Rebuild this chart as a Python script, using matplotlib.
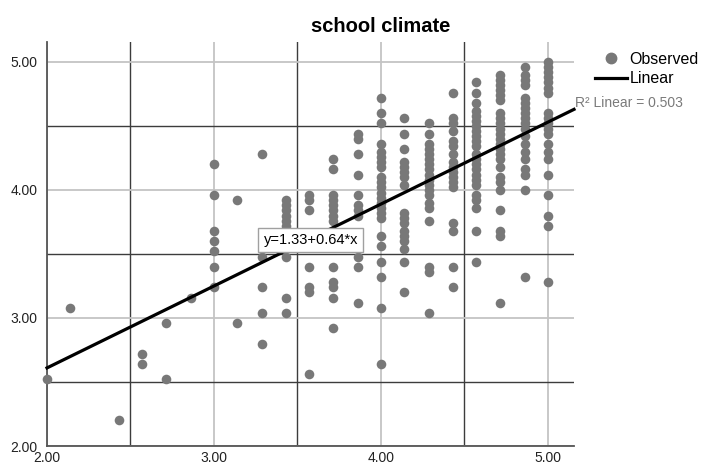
import matplotlib
matplotlib.use('Agg')
import matplotlib.pyplot as plt
from matplotlib.lines import Line2D

plt.rcParams['font.family'] = ['Liberation Sans', 'DejaVu Sans']

# x levels (steps of 1/7) and the observed y values in each column
x_levels = [2.00, 2.14, 2.43, 2.57, 2.71, 2.86, 3.00, 3.14, 3.29, 3.43, 3.57,
            3.71, 3.86, 4.00, 4.14, 4.29, 4.43, 4.57, 4.71, 4.86, 5.00]

col_200 = [2.52]
col_214 = [3.08]
col_243 = [2.20]
col_257 = [2.72, 2.64]
col_271 = [2.96, 2.52]
col_286 = [3.16]
col_300 = [4.20, 3.96, 3.68, 3.60, 3.52, 3.40, 3.24]
col_314 = [3.92, 2.96]
col_329 = [4.28, 3.48, 3.24, 3.04, 2.80]
col_343 = [3.92, 3.88, 3.84, 3.80, 3.76, 3.72, 3.48, 3.16, 3.04]
col_357 = [3.96, 3.92, 3.84, 3.64, 3.40, 3.24, 3.20, 2.56]
col_371 = [4.24, 4.16, 3.96, 3.92, 3.88, 3.84, 3.80, 3.76, 3.60, 3.40, 3.28,
           3.24, 3.16, 2.92]
col_386 = [4.44, 4.40, 4.28, 4.12, 3.96, 3.88, 3.84, 3.80, 3.48, 3.40, 3.12]
col_400 = [4.72, 4.60, 4.52, 4.36, 4.30, 4.26, 4.22, 4.18, 4.10, 4.06, 4.02,
           3.98, 3.94, 3.90, 3.86, 3.82, 3.78, 3.64, 3.56, 3.44, 3.32, 3.08, 2.64]
col_414 = [4.56, 4.44, 4.32, 4.22, 4.18, 4.14, 4.10, 4.04, 3.82, 3.78, 3.74,
           3.68, 3.64, 3.60, 3.54, 3.44, 3.20]
col_429 = [4.52, 4.44, 4.36, 4.32, 4.28, 4.24, 4.20, 4.16, 4.12, 4.08, 4.04,
           4.00, 3.96, 3.90, 3.86, 3.76, 3.40, 3.36, 3.04]
col_443 = [4.76, 4.56, 4.52, 4.46, 4.38, 4.34, 4.28, 4.22, 4.18, 4.14, 4.10,
           4.06, 4.02, 3.74, 3.68, 3.40, 3.24]
col_457 = [4.84, 4.76, 4.68, 4.62, 4.58, 4.54, 4.50, 4.46, 4.42, 4.38, 4.34,
           4.28, 4.24, 4.20, 4.16, 4.12, 4.08, 4.04, 3.96, 3.92, 3.86, 3.68, 3.44]
col_471 = [4.90, 4.86, 4.82, 4.78, 4.74, 4.70, 4.60, 4.56, 4.52, 4.48, 4.44,
           4.40, 4.36, 4.32, 4.28, 4.24, 4.18, 4.10, 4.06, 4.00, 3.84, 3.68,
           3.64, 3.12]
col_486 = [4.96, 4.90, 4.86, 4.82, 4.72, 4.68, 4.64, 4.60, 4.56, 4.52, 4.48,
           4.42, 4.36, 4.30, 4.24, 4.16, 4.12, 4.00, 3.32]
col_500 = [5.00, 4.96, 4.92, 4.88, 4.84, 4.80, 4.76, 4.60, 4.56, 4.52, 4.48,
           4.44, 4.36, 4.30, 4.24, 4.12, 3.96, 3.80, 3.72, 3.28]

columns = [col_200, col_214, col_243, col_257, col_271, col_286, col_300,
           col_314, col_329, col_343, col_357, col_371, col_386, col_400,
           col_414, col_429, col_443, col_457, col_471, col_486, col_500]

intercept = 1.33
slope = 0.64
r_squared = 0.503

tick_values = [2.0, 3.0, 4.0, 5.0]
tick_labels = ['2.00', '3.00', '4.00', '5.00']

xs = []
ys = []
for xv, col in zip(x_levels, columns):
    for yv in col:
        xs.append(xv)
        ys.append(yv)

fig = plt.figure(figsize=(7.01, 4.68), dpi=100)
ax = fig.add_axes([47 / 701, 1 - 446 / 468, 527 / 701, 404 / 468])

lim = (2.0, 5.156)
ax.set_xlim(lim)
ax.set_ylim(lim)

ax.set_xticks(tick_values)
ax.set_xticklabels(tick_labels)
ax.set_yticks(tick_values)
ax.set_yticklabels(tick_labels)
ax.set_xticks([2.5, 3.5, 4.5], minor=True)
ax.set_yticks([2.5, 3.5, 4.5], minor=True)
ax.tick_params(which='both', length=0, labelsize=10, colors='#222222')
ax.tick_params(axis='x', pad=3.5)
ax.tick_params(axis='y', pad=7)

ax.grid(which='major', color='#c4c4c4', linewidth=1.3)
ax.grid(which='minor', color='#3c3c3c', linewidth=1.0)
ax.set_axisbelow(True)

for side in ['top', 'right']:
    ax.spines[side].set_visible(False)
for side in ['left', 'bottom']:
    ax.spines[side].set_color('#555555')
    ax.spines[side].set_linewidth(1.3)

ax.scatter(xs, ys, s=48, color='#787878', linewidths=0, zorder=3, clip_on=False)

line_x = [lim[0], lim[1]]
line_y = [intercept + slope * v for v in line_x]
ax.plot(line_x, line_y, color='black', linewidth=2.3, zorder=4, clip_on=False)

ax.text(3.58, 3.61, 'y=%.2f+%.2f*x' % (intercept, slope), fontsize=10.5,
        ha='center', va='center', zorder=5,
        bbox=dict(boxstyle='square,pad=0.35', facecolor='white',
                  edgecolor='#a0a0a0', linewidth=1))

fig.text(381 / 701, 1 - 32 / 468, 'school climate', fontsize=14.5,
         fontweight='bold', ha='center', va='baseline')

fig.text(575 / 701, 1 - 103 / 468, 'R² Linear = %.3f' % r_squared,
         fontsize=10, color='#7a7a7a', ha='left', va='center')

handles = [
    Line2D([], [], marker='o', linestyle='none', color='#787878',
           markersize=7.5),
    Line2D([], [], color='black', linewidth=2.3),
]
fig.legend(handles, ['Observed', 'Linear'], loc='upper left',
           bbox_to_anchor=(585 / 701, 1 - 42 / 468), frameon=False,
           fontsize=11.5, handlelength=2.0, handletextpad=0.2,
           labelspacing=0.3, borderpad=0.1)

fig.savefig('out.png', dpi=100)
